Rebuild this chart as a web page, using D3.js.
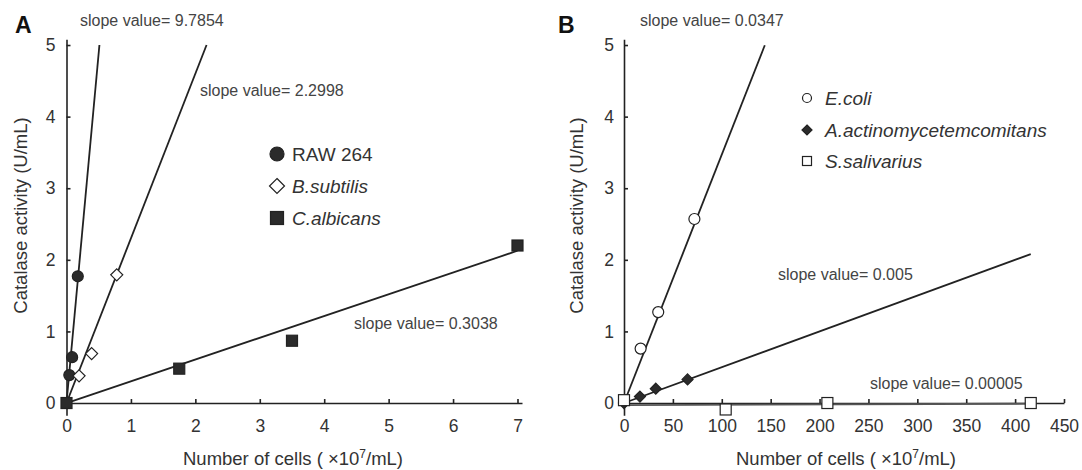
<!DOCTYPE html>
<html>
<head>
<meta charset="utf-8">
<script src="https://cdn.jsdelivr.net/npm/d3@7"></script>
<style>
  body { margin: 0; background: #fff; }
  svg { font-family: "Liberation Sans", Arial, sans-serif; }
  .axis path, .axis line { stroke: #222; stroke-width: 1.6; }
  .axis text { font-size: 17.5px; fill: #333; }
</style>
</head>
<body>
<svg id="chart" width="1082" height="470"></svg>
<script>
// panel A: eukaryotic / gram positive cells (x in 10^7 cells/mL)
var rawX  = [0.04375, 0.0875, 0.175];
var rawY  = [0.39, 0.64, 1.77];
var bsubX = [0.195, 0.39, 0.78];
var bsubY = [0.38, 0.69, 1.79];
var calbX = [0, 1.75, 3.5, 7];
var calbY = [0, 0.48, 0.87, 2.2];
var slopesA = [9.7854, 2.2998, 0.3038];
var fitEndA = [0.511, 2.174, 7];

// panel B: bacteria
var ecoliX  = [17, 35, 72];
var ecoliY  = [0.76, 1.27, 2.57];
var actinoX = [0, 16.3, 32.5, 65];
var actinoY = [0, 0.09, 0.2, 0.33];
var ssalX   = [0, 104, 208, 416];
var ssalY   = [0.04, -0.09, 0, 0];
var slopesB = [0.0347, 0.005, 0.00005];
var fitEndB = [144, 416, 416];

var yTicks  = [0, 1, 2, 3, 4, 5];
var xTicksA = [0, 1, 2, 3, 4, 5, 6, 7];
var xTicksB = [0, 50, 100, 150, 200, 250, 300, 350, 400, 450];

var svg = d3.select("#chart");
var ink = "#222";

// same vertical scale in both panels
var y = d3.scaleLinear().domain([-0.17, 5.08]).range([415.2, 39.3]);

function marker(g, shape, cx, cy, s, filled) {
  var fill = filled ? "#2b2b2b" : "#fff";
  if (shape == "circle") {
    g.append("circle").attr("cx", cx).attr("cy", cy).attr("r", s / 2)
      .attr("fill", fill).attr("stroke", ink).attr("stroke-width", 1.2);
  } else if (shape == "square") {
    g.append("rect").attr("x", cx - s / 2).attr("y", cy - s / 2).attr("width", s).attr("height", s)
      .attr("fill", fill).attr("stroke", ink).attr("stroke-width", 1.2);
  } else {
    var h = s / 2;
    g.append("path").attr("d", "M" + cx + "," + (cy - h) + "L" + (cx + h) + "," + cy + "L" + cx + "," + (cy + h) + "L" + (cx - h) + "," + cy + "Z")
      .attr("fill", fill).attr("stroke", ink).attr("stroke-width", 1.2);
  }
}

function panel(p) {
  var x = d3.scaleLinear().domain(p.xDomain).range(p.xRange);
  var g = svg.append("g");

  // axes, ticks pointing inward
  g.append("g").attr("class", "axis").attr("transform", "translate(0," + y(0) + ")")
    .call(d3.axisBottom(x).tickValues(p.xTicks).tickFormat(d3.format("d"))
      .tickSizeInner(-4).tickSizeOuter(0).tickPadding(17));
  g.append("g").attr("class", "axis").attr("transform", "translate(" + x(0) + ",0)")
    .call(d3.axisLeft(y).tickValues(yTicks).tickFormat(d3.format("d"))
      .tickSizeInner(-4).tickSizeOuter(0).tickPadding(p.yPad));
  g.selectAll(".axis .domain").attr("stroke", ink);

  // regression lines
  p.slopes.forEach(function(s, i) {
    g.append("line")
      .attr("x1", x(0)).attr("y1", y(p.fitStart[i]))
      .attr("x2", x(p.fitEnd[i])).attr("y2", y(p.fitStart[i] + s * p.fitEnd[i]))
      .attr("stroke", p.lineColor[i]).attr("stroke-width", 1.8);
    g.append("text").attr("x", p.labelPos[i][0]).attr("y", p.labelPos[i][1])
      .attr("font-size", 16).attr("fill", "#444").text("slope value= " + s);
  });

  // points
  p.series.forEach(function(sr) {
    sr.xs.forEach(function(v, i) {
      marker(g, sr.shape, x(v), y(sr.ys[i]), sr.size, sr.filled);
    });
  });

  // legend
  p.series.forEach(function(sr, i) {
    var ly = p.legendY[i];
    marker(g, sr.shape, p.legendX, ly, sr.legendSize, sr.filled);
    g.append("text").attr("x", p.legendX + p.legendGap).attr("y", ly + 7)
      .attr("font-size", 19).attr("fill", "#333")
      .attr("font-style", sr.italic ? "italic" : "normal").text(sr.name);
  });

  // titles
  g.append("text").attr("transform", "translate(" + p.yTitleX + ",215.5) rotate(-90)")
    .attr("text-anchor", "middle").attr("dy", "0.35em").attr("font-size", 18.5).attr("fill", "#333")
    .text("Catalase activity (U/mL)");
  var xt = g.append("text").attr("x", p.xTitleX).attr("y", 465)
    .attr("text-anchor", "middle").attr("font-size", 18.5).attr("fill", "#333");
  xt.append("tspan").text("Number of cells ( \u00d710");
  xt.append("tspan").attr("dy", -7).attr("font-size", 12).text("7");
  xt.append("tspan").attr("dy", 7).text("/mL)");

  g.append("text").attr("x", p.letterX).attr("y", 33).attr("font-size", 23)
    .attr("font-weight", "bold").attr("fill", "#111").text(p.letter);
}

panel({
  letter: "A", letterX: 15,
  xDomain: [0, 7.07], xRange: [66.5, 522], xTicks: xTicksA, yPad: 11,
  slopes: slopesA, fitEnd: fitEndA, fitStart: [0, 0, 0], lineColor: [ink, ink, ink],
  labelPos: [[80, 26], [200, 96], [354, 329]],
  series: [
    {name: "RAW 264", xs: rawX, ys: rawY, shape: "circle", filled: true, size: 11, legendSize: 14, italic: false},
    {name: "B.subtilis", xs: bsubX, ys: bsubY, shape: "diamond", filled: false, size: 12, legendSize: 15, italic: true},
    {name: "C.albicans", xs: calbX, ys: calbY, shape: "square", filled: true, size: 11, legendSize: 13, italic: true}
  ],
  legendX: 277, legendGap: 15, legendY: [154, 186, 218],
  yTitleX: 21, xTitleX: 293
});

panel({
  letter: "B", letterX: 558,
  xDomain: [0, 450], xRange: [624, 1064], xTicks: xTicksB, yPad: 10,
  slopes: slopesB, fitEnd: fitEndB, fitStart: [0, 0, -0.03], lineColor: [ink, ink, "#555"],
  labelPos: [[640, 26], [778, 280], [870, 389]],
  series: [
    {name: "E.coli", xs: ecoliX, ys: ecoliY, shape: "circle", filled: false, size: 11, legendSize: 9, italic: true},
    {name: "A.actinomycetemcomitans", xs: actinoX, ys: actinoY, shape: "diamond", filled: true, size: 11, legendSize: 10, italic: true},
    {name: "S.salivarius", xs: ssalX, ys: ssalY, shape: "square", filled: false, size: 11, legendSize: 9, italic: true}
  ],
  legendX: 807, legendGap: 18, legendY: [98, 130, 161],
  yTitleX: 577, xTitleX: 846
});
</script>
</body>
</html>
